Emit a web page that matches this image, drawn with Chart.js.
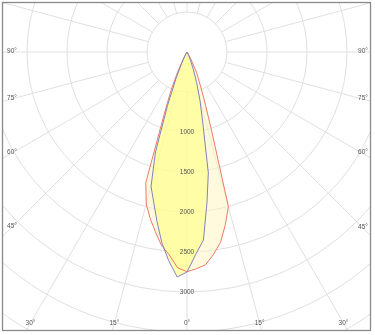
<!DOCTYPE html>
<html>
<head>
<meta charset="utf-8">
<script src="https://cdn.jsdelivr.net/npm/chart.js@4.4.0/dist/chart.umd.min.js"></script>
<style>
  html, body { margin: 0; padding: 0; background: #fff; }
  #wrap { width: 375px; height: 335px; position: relative; }
</style>
</head>
<body>
<div id="wrap"><canvas id="polar"></canvas></div>
<script>
// gamma angles (deg from nadir, negative = left) and intensities in cd
const anglesDeg = [-45, -42.5, -40, -37.5, -35, -32.5, -30, -27.5, -25, -22.5, -20, -17.5, -15, -12.5, -10, -7.5, -5, -2.5,
    0, 2.5, 5, 7.5, 10, 12.5, 15, 17.5, 20, 22.5, 25, 27.5, 30, 32.5, 35, 37.5, 40, 42.5, 45];
const planeC0 = [0, 0, 0, 0, 0, 0, 25, 70, 170, 365, 710, 1310, 1737, 1924, 2154, 2407, 2619, 2815,
    2750, 2530, 2359, 1908, 1536, 919, 629, 400, 230, 120, 50, 15, 0, 0, 0, 0, 0, 0, 0];
const planeC90 = [0, 0, 0, 0, 0, 15, 50, 120, 280, 530, 850, 1713, 1968, 2130, 2280, 2440, 2545, 2700,
    2746, 2712, 2669, 2550, 2415, 2212, 2000, 1000, 616, 400, 280, 130, 50, 15, 0, 0, 0, 0, 0];

const ringValues = [500, 1000, 1500, 2000, 2500, 3000, 3500, 4000, 4500];
const valueLabels = [1000, 1500, 2000, 2500, 3000];
const spokeAngles = [0, 15, 30, 45, 60, 75, 90, 105, 120, 135, 150, 165, 180, 195, 210, 225, 240, 255, 270, 285, 300, 315, 330, 345];
const sideLabels = [90, 75, 60, 45];
const bottomLabels = [-30, -15, 0, 15, 30];

const rad = d => d * Math.PI / 180;

function toPoints(values) {
    return anglesDeg.map((a, i) => ({
        x: values[i] * Math.sin(rad(a)),
        y: -values[i] * Math.cos(rad(a))
    }));
}

const polarGrid = {
    id: 'polarGrid',
    beforeDraw(chart) {
        const { ctx, chartArea: area, scales: { x, y } } = chart;
        const cx = x.getPixelForValue(0);
        const cy = y.getPixelForValue(0);
        const r = v => x.getPixelForValue(v) - cx;

        ctx.save();
        ctx.fillStyle = '#fff';
        ctx.fillRect(0, 0, chart.width, chart.height);
        ctx.beginPath();
        ctx.rect(area.left, area.top, area.right - area.left, area.bottom - area.top);
        ctx.clip();
        ctx.strokeStyle = '#e0e0e0';
        ctx.lineWidth = 1;
        ringValues.forEach(v => {
            ctx.beginPath();
            ctx.arc(cx, cy, r(v), 0, Math.PI * 2);
            ctx.stroke();
        });
        const r0 = r(ringValues[0]);
        const r1 = r(6000);
        spokeAngles.forEach(a => {
            const s = Math.sin(rad(a)), c = Math.cos(rad(a));
            ctx.beginPath();
            ctx.moveTo(cx + r0 * s, cy + r0 * c);
            ctx.lineTo(cx + r1 * s, cy + r1 * c);
            ctx.stroke();
        });
        ctx.restore();
    },
    afterDatasetsDraw(chart) {
        const { ctx, chartArea: area, scales: { x, y } } = chart;
        const cx = x.getPixelForValue(0);
        const cy = y.getPixelForValue(0);

        ctx.save();
        ctx.font = '6.5px "Liberation Sans", Arial, sans-serif';
        ctx.fillStyle = '#555';
        ctx.textAlign = 'center';
        ctx.textBaseline = 'middle';

        valueLabels.forEach(v => {
            ctx.fillText(String(v), cx, y.getPixelForValue(-v));
        });

        const xL = area.left + 9;
        const xR = area.right - 7;
        const yB = area.bottom - 7;
        sideLabels.forEach(a => {
            const k = Math.cos(rad(a)) / Math.sin(rad(a));
            ctx.fillText(a + '°', xL, cy + (cx - xL) * k - 1);
            ctx.fillText(a + '°', xR, cy + (xR - cx) * k - 1);
        });
        bottomLabels.forEach(a => {
            const px = cx + (yB - cy) * Math.tan(rad(a));
            ctx.fillText(Math.abs(a) + '°', px, yB);
        });

        ctx.strokeStyle = '#8a8a8a';
        ctx.lineWidth = 1.3;
        ctx.strokeRect(area.left - 0.5, area.top - 0.5, area.right - area.left + 1, area.bottom - area.top + 1);
        ctx.restore();
    }
};

new Chart(document.getElementById('polar'), {
    type: 'scatter',
    data: {
        datasets: [
            {
                label: 'C0-C180',
                data: toPoints(planeC0),
                showLine: true,
                tension: 0,
                borderColor: '#8282bf',
                borderWidth: 1,
                backgroundColor: 'rgba(255, 255, 130, 0.62)',
                fill: 'shape',
                pointRadius: 0
            },
            {
                label: 'C90-C270',
                data: toPoints(planeC90),
                showLine: true,
                tension: 0,
                borderColor: '#ee7a68',
                borderWidth: 1,
                backgroundColor: 'rgba(255, 246, 190, 0.5)',
                fill: 'shape',
                pointRadius: 0
            }
        ]
    },
    options: {
        responsive: true,
        maintainAspectRatio: false,
        animation: false,
        layout: { padding: { left: 3, top: 3, right: 5, bottom: 5 } },
        scales: {
            x: { type: 'linear', display: false, min: -2300, max: 2287.5 },
            y: { type: 'linear', display: false, min: -3475, max: 612.5 }
        },
        plugins: {
            legend: { display: false },
            tooltip: { enabled: false },
            filler: { drawTime: 'beforeDatasetsDraw' }
        }
    },
    plugins: [polarGrid]
});
</script>
</body>
</html>
